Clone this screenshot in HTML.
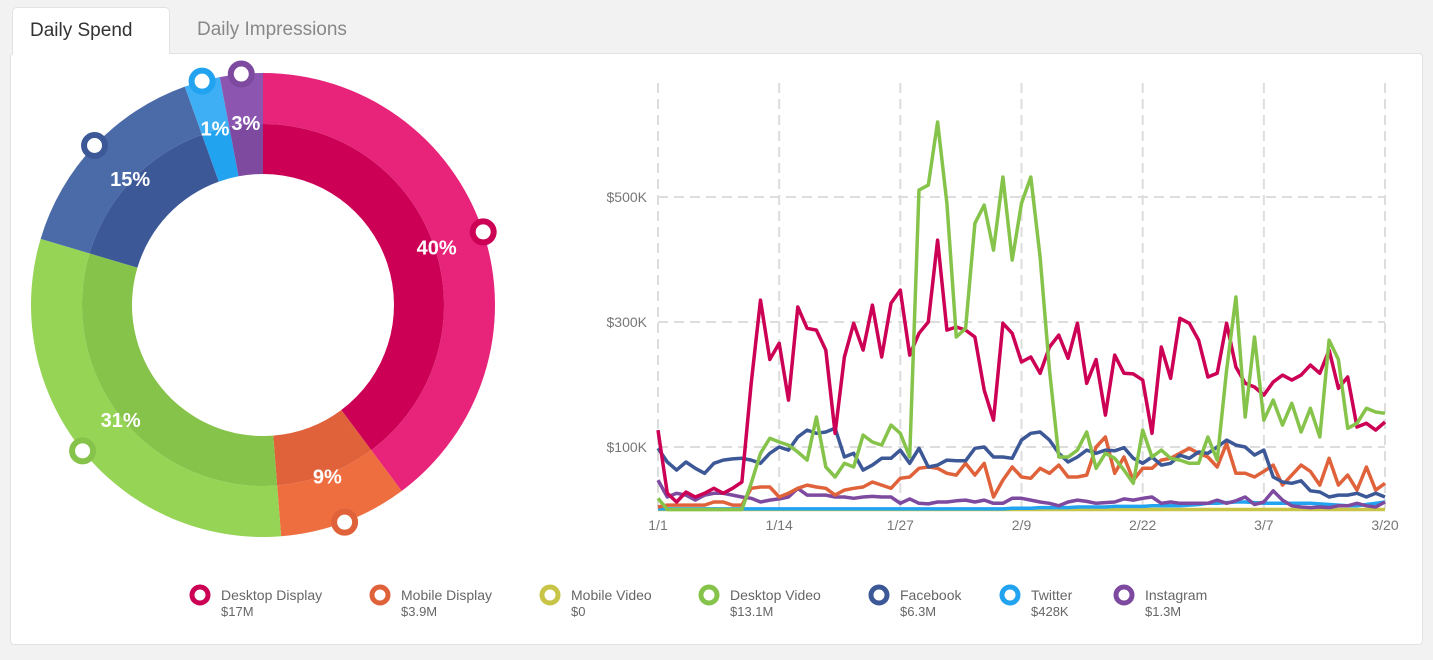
<!DOCTYPE html>
<html><head><meta charset="utf-8"><style>
body{margin:0;width:1433px;height:660px;background:#f2f2f2;font-family:"Liberation Sans",sans-serif;overflow:hidden;position:relative}
.tab{position:absolute;top:7px;height:47px;font-size:19px;line-height:46px;box-sizing:border-box}
#card{position:absolute;left:10px;top:53px;width:1413px;height:592px;background:#fff;border:1px solid #e2e2e2;border-radius:4px;box-sizing:border-box}
svg{position:absolute;left:0;top:0}
</style></head><body>
<div class="tab" style="left:12px;width:158px;background:#fff;border:1px solid #e2e2e2;border-bottom:none;border-radius:5px 5px 0 0;color:#333;padding-left:17px;z-index:2">Daily Spend</div>
<div class="tab" style="left:197px;color:#888">Daily Impressions</div>
<div id="card"></div>
<svg id="svg" width="1433" height="660" style="z-index:3"></svg>
<script>
const names=["Desktop Display","Mobile Display","Mobile Video","Desktop Video","Facebook","Twitter","Instagram"];
const totals=["$17M","$3.9M","$0","$13.1M","$6.3M","$428K","$1.3M"];
const shares=[40,9,0,31,15,2.5,3];
const pctLabels=["40%","9%","","31%","15%","1%","3%"];
const colors=["#cc0055","#e0623a","#c8c447","#86c34a","#3d5897","#22a3f0","#7d4aa0"];
const outerColors=["#e8247a","#ef6e40","#d4d060","#96d456","#4b6ba8","#3eaef5","#8c56b0"];
const yTicks=[100,300,500];
const xTicks=["1/1","1/14","1/27","2/9","2/22","3/7","3/20"];
const desktopDisplay=[127,26,12,28,20,26,34,26,34,44,202,335,240,266,175,324,290,287,255,122,244,298,255,327,244,330,351,247,282,300,431,287,292,287,276,191,143,298,282,236,244,218,260,279,242,298,202,240,151,247,218,217,207,122,260,210,306,298,271,212,218,298,228,202,196,183,204,215,207,215,231,218,255,194,212,132,138,127,140];
const mobileDisplay=[4,7,7,7,7,7,12,12,7,7,34,36,36,20,26,34,39,36,34,23,31,34,36,44,39,34,50,52,66,68,66,58,55,74,55,74,20,47,68,52,50,66,58,71,52,52,55,100,116,58,84,47,66,66,79,82,90,98,90,84,68,106,58,58,52,61,71,39,55,71,61,39,82,39,55,31,68,31,42];
const mobileVideo=[0,0,0,0,0,0,0,0,0,0,0,0,0,0,0,0,0,0,0,0,0,0,0,0,0,0,0,0,0,0,0,0,0,0,0,0,0,0,0,0,0,0,0,0,0,0,0,0,0,0,0,0,0,0,0,0,0,0,0,0,0,0,0,0,0,0,0,0,0,0,0,0,0,0,0,0,0,0,0];
const desktopVideo=[18,0,0,0,0,0,0,0,0,0,42,90,114,108,103,92,79,148,68,52,74,68,119,108,103,135,122,84,511,519,620,490,276,290,458,487,415,532,399,490,532,404,223,84,84,95,124,66,90,82,63,42,127,84,95,82,79,74,74,116,79,223,340,148,276,143,175,135,170,124,162,116,271,240,130,138,162,156,154];
const facebook=[98,76,63,76,66,58,74,79,81,82,79,74,90,100,95,116,127,122,124,130,84,90,63,71,82,82,95,74,98,68,71,79,78,78,98,100,84,84,82,111,122,124,111,90,76,84,95,90,95,94,99,82,74,84,71,74,87,82,92,90,100,111,103,100,87,95,52,44,42,46,30,28,20,23,23,26,20,26,20];
const twitter=[1,1,1,1,1,1,1,1,1,1,1,1,1,1,1,1,1,1,1,1,1,1,1,1,1,1,1,1,1,1,1,1,1,1,1,1,1,1,2,2,2,3,3,3,3,4,4,4,4,5,5,5,5,6,6,6,6,7,8,10,10,11,12,12,11,10,10,10,10,10,10,9,8,7,6,6,8,10,12];
const instagram=[47,20,26,23,15,23,26,26,23,20,18,12,15,17,20,34,23,23,23,20,20,18,20,21,20,20,10,17,10,9,12,12,14,15,12,15,10,10,18,18,15,12,10,6,12,15,13,10,11,12,17,15,18,20,10,12,10,10,10,10,15,10,14,20,8,12,30,15,6,4,3,4,3,6,6,10,6,4,12];
const series=[desktopDisplay,mobileDisplay,mobileVideo,desktopVideo,facebook,twitter,instagram];

const NS="http://www.w3.org/2000/svg",svg=document.getElementById('svg');
function mk(t,a,p){const e=document.createElementNS(NS,t);for(const k in a)e.setAttribute(k,a[k]);(p||svg).appendChild(e);return e;}

// donut
const cx=263,cy=305,R1=232,R2=181,R0=131;
const tot=shares.reduce((a,b)=>a+b,0);
function pt(r,a){const t=a*Math.PI/180;return [cx+r*Math.sin(t),cy-r*Math.cos(t)];}
function arc(r1,r2,a0,a1){const l=a1-a0>180?1:0;const p0=pt(r2,a0),p1=pt(r2,a1),p2=pt(r1,a1),p3=pt(r1,a0);
return `M${p0}A${r2},${r2} 0 ${l} 1 ${p1}L${p2}A${r1},${r1} 0 ${l} 0 ${p3}Z`;}
let acc=0;const mids=[];
shares.forEach((s,i)=>{const a0=acc/tot*360;acc+=s;const a1=acc/tot*360;mids.push((a0+a1)/2);if(s<=0)return;
let e=mk('path',{d:arc(R2,R1,a0,a1),fill:outerColors[i]});


e=mk('path',{d:arc(R0,R2,a0,a1),fill:colors[i]});

});
shares.forEach((s,i)=>{if(s<=0)return;const m=mids[i];
const lp=pt(183,m);const t=mk('text',{x:lp[0],y:lp[1]+7,'text-anchor':'middle','font-size':20,'font-weight':'bold',fill:'#fff'});t.textContent=pctLabels[i];


const mp=pt(R1,m);const c=mk('circle',{cx:mp[0],cy:mp[1],r:10.5,fill:'#fff',stroke:colors[i],'stroke-width':6});

});

// line chart
const X0=658,X1=1385,Yz=509.5,ky=0.625,N=desktopDisplay.length;
const xs=i=>X0+i*(X1-X0)/(N-1), ys=v=>Yz-v*ky;
yTicks.forEach(v=>{let l=mk('line',{x1:X0,x2:X1,y1:ys(v),y2:ys(v),stroke:'#ddd','stroke-width':2,'stroke-dasharray':'10 6'});


const t=mk('text',{x:647,y:ys(v)+5,'text-anchor':'end','font-size':14,fill:'#777'});t.textContent='$'+v+'K';

});
xTicks.forEach((s,k)=>{const x=xs(k*13);let l=mk('line',{x1:x,x2:x,y1:83,y2:Yz,stroke:'#ddd','stroke-width':2,'stroke-dasharray':'10 6'});


const t=mk('text',{x:x,y:530,'text-anchor':'middle','font-size':14,fill:'#777'});t.textContent=s;

});
[2,5,6,1,4,0,3].forEach(i=>{const d=series[i].map((v,j)=>(j?'L':'M')+xs(j).toFixed(1)+','+ys(v).toFixed(1)).join('');
const p=mk('path',{d:d,fill:'none',stroke:colors[i],'stroke-width':3.5,'stroke-linejoin':'round'});

});

// legend
const lx=[200,380,550,709,879,1010,1124];
names.forEach((n,i)=>{const g=mk('g',{});


mk('circle',{cx:lx[i],cy:595,r:8,fill:'#fff',stroke:colors[i],'stroke-width':5},g);
let t=mk('text',{x:lx[i]+21,y:600,'font-size':14,fill:'#666'},g);t.textContent=n;
t=mk('text',{x:lx[i]+21,y:616,'font-size':13,fill:'#666'},g);t.textContent=totals[i];});
</script>
</body></html>
